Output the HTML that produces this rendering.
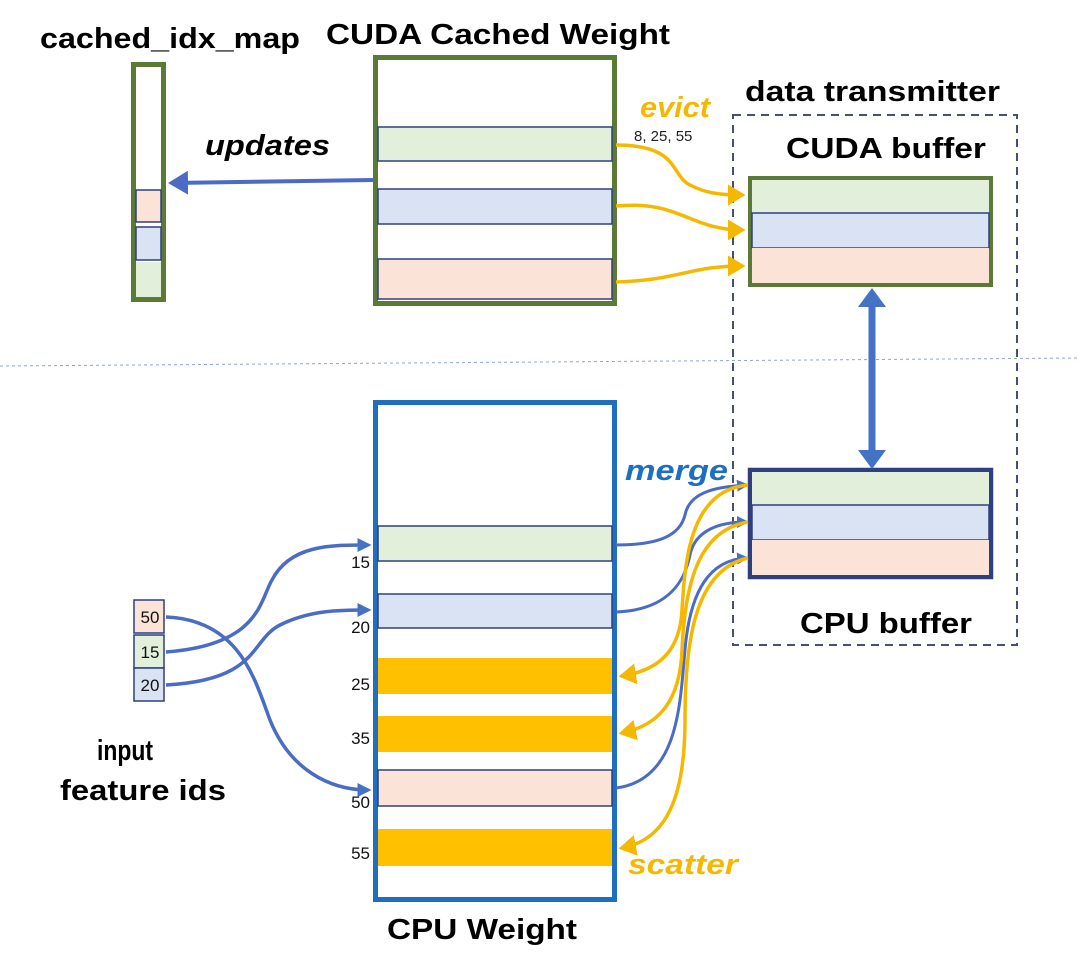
<!DOCTYPE html>
<html><head><meta charset="utf-8"><style>
body{margin:0;background:#fff;}
svg{display:block;font-family:"Liberation Sans",sans-serif;}
</style></head><body>
<svg width="1080" height="970" viewBox="0 0 1080 970" xmlns="http://www.w3.org/2000/svg">
<defs>
<marker id="ab" markerWidth="6" markerHeight="6" refX="4" refY="3" orient="auto" markerUnits="strokeWidth"><path d="M0,0 L5,3 L0,6 z" fill="#4a6cc4"/></marker>
<marker id="ao" markerWidth="6" markerHeight="6" refX="4" refY="3" orient="auto" markerUnits="strokeWidth"><path d="M0,0 L5,3 L0,6 z" fill="#f5b800"/></marker>
<marker id="ab2" markerWidth="4" markerHeight="4" refX="3" refY="2" orient="auto" markerUnits="strokeWidth"><path d="M0,0 L4,2 L0,4 z" fill="#4472c4"/></marker>
</defs>
<line x1="0" y1="366" x2="1080" y2="358" stroke="#8fa4dc" stroke-width="1" stroke-dasharray="3,3"/>
<g font-size="29" font-weight="bold" lengthAdjust="spacingAndGlyphs">
<text x="40" y="48" textLength="260" lengthAdjust="spacingAndGlyphs">cached_idx_map</text>
<text x="326" y="44" textLength="344" lengthAdjust="spacingAndGlyphs">CUDA Cached Weight</text>
<text x="745" y="101" textLength="255" lengthAdjust="spacingAndGlyphs">data transmitter</text>
<text x="786" y="158" textLength="200" lengthAdjust="spacingAndGlyphs">CUDA buffer</text>
<text x="800" y="633" textLength="172" lengthAdjust="spacingAndGlyphs">CPU buffer</text>
<text x="387" y="939" textLength="190" lengthAdjust="spacingAndGlyphs">CPU Weight</text>
<text x="97" y="760" textLength="56" lengthAdjust="spacingAndGlyphs">input</text>
<text x="60" y="800" textLength="166" lengthAdjust="spacingAndGlyphs">feature ids</text>
<text x="205" y="155" font-style="italic" textLength="125" lengthAdjust="spacingAndGlyphs">updates</text>
<text x="640" y="117" font-style="italic" fill="#f5b800" textLength="70" lengthAdjust="spacingAndGlyphs">evict</text>
<text x="625" y="480" font-style="italic" fill="#1f6fc0" textLength="103" lengthAdjust="spacingAndGlyphs">merge</text>
<text x="628" y="874" font-style="italic" fill="#f5b800" textLength="110" lengthAdjust="spacingAndGlyphs">scatter</text>
</g>
<text x="634" y="141" font-size="15" fill="#222">8, 25, 55</text>
<rect x="133.5" y="64.5" width="30" height="235" fill="#fff" stroke="#5a7a35" stroke-width="5"/>
<rect x="136" y="190" width="25" height="32" fill="#fbe3d8" stroke="#2f3f7f" stroke-width="1.5"/>
<rect x="136" y="227" width="25" height="33" fill="#dae3f3" stroke="#2f3f7f" stroke-width="1.5"/>
<rect x="136" y="262" width="25" height="35" fill="#e2efda"/>
<rect x="375.5" y="57.5" width="239" height="246" fill="#fff" stroke="#5a7a35" stroke-width="5"/>
<rect x="378" y="127" width="234" height="34" fill="#e2efda" stroke="#2f3f7f" stroke-width="1.5"/>
<rect x="378" y="189" width="234" height="35" fill="#dae3f3" stroke="#2f3f7f" stroke-width="1.5"/>
<rect x="378" y="259" width="234" height="40" fill="#fbe3d8" stroke="#2f3f7f" stroke-width="1.5"/>
<line x1="373" y1="180" x2="172" y2="183" stroke="#4a6cc4" stroke-width="4" marker-end="url(#ab)"/>
<rect x="733" y="115" width="284" height="530" fill="none" stroke="#44507a" stroke-width="2" stroke-dasharray="8,6"/>
<rect x="750" y="178" width="241" height="107" fill="#fff" stroke="#5a7a35" stroke-width="4"/>
<rect x="752" y="180" width="237" height="33" fill="#e2efda"/>
<rect x="752" y="213" width="237" height="35" fill="#dae3f3" stroke="#2f3f7f" stroke-width="1.5"/>
<rect x="752" y="248" width="237" height="35" fill="#fbe3d8"/>
<rect x="750" y="470" width="241" height="107" fill="#fff" stroke="#2f3f7f" stroke-width="4.5"/>
<rect x="752" y="472" width="237" height="33" fill="#e2efda"/>
<rect x="752" y="505" width="237" height="35" fill="#dae3f3" stroke="#2f3f7f" stroke-width="1.5"/>
<rect x="752" y="540" width="237" height="35" fill="#fbe3d8"/>
<line x1="872" y1="305" x2="872" y2="452" stroke="#4472c4" stroke-width="7"/>
<path d="M858,307 L872,288 L886,307 z" fill="#4472c4"/>
<path d="M858,450 L872,469 L886,450 z" fill="#4472c4"/>
<rect x="375.5" y="402.5" width="239" height="497" fill="#fff" stroke="#1f6fc0" stroke-width="5"/>
<rect x="378" y="526" width="234" height="35" fill="#e2efda" stroke="#2f3f7f" stroke-width="1.5"/>
<rect x="378" y="594" width="234" height="34" fill="#dae3f3" stroke="#2f3f7f" stroke-width="1.5"/>
<rect x="378" y="658" width="234" height="36" fill="#ffc000"/>
<rect x="378" y="716" width="234" height="36" fill="#ffc000"/>
<rect x="378" y="770" width="234" height="36" fill="#fbe3d8" stroke="#2f3f7f" stroke-width="1.5"/>
<rect x="378" y="829" width="234" height="37" fill="#ffc000"/>
<g font-size="17" text-anchor="end" fill="#111">
<text x="370" y="568">15</text><text x="370" y="633">20</text><text x="370" y="690">25</text>
<text x="370" y="744">35</text><text x="370" y="808">50</text><text x="370" y="859">55</text>
</g>
<rect x="134" y="600" width="30" height="33" fill="#fbe3d8" stroke="#2f3f7f" stroke-width="1.5"/>
<rect x="134" y="635" width="30" height="33" fill="#e2efda" stroke="#2f3f7f" stroke-width="1.5"/>
<rect x="134" y="668" width="30" height="33" fill="#dae3f3" stroke="#2f3f7f" stroke-width="1.5"/>
<g font-size="17" text-anchor="middle" fill="#111">
<text x="150" y="623">50</text><text x="150" y="658">15</text><text x="150" y="691">20</text>
</g>
<g fill="none" stroke="#4a6cc4" stroke-width="3.5">
<path d="M166,652 C260,645 260,600 272,580 C290,545 330,545 368,545" marker-end="url(#ab2)"/>
<path d="M166,685 C260,680 250,640 280,625 C310,610 340,610 368,610" marker-end="url(#ab2)"/>
<path d="M166,617 C240,620 255,680 270,720 C290,770 330,790 368,790" marker-end="url(#ab2)"/>
</g>
<g fill="none" stroke="#f5b800" stroke-width="3.5">
<path d="M616,145 C680,145 670,175 690,185 C705,193 720,195 742,195" marker-end="url(#ao)"/>
<path d="M616,206 C680,200 690,230 742,230" marker-end="url(#ao)"/>
<path d="M616,282 C680,280 690,266 742,266" marker-end="url(#ao)"/>
</g>
<g fill="none" stroke="#4a6cc4" stroke-width="3">
<path d="M616,545 C660,545 680,535 685,515 C690,490 720,487 746,485" marker-end="url(#ab2)"/>
<path d="M616,612 C670,610 685,580 690,555 C695,530 720,522 746,522" marker-end="url(#ab2)"/>
<path d="M616,788 C680,780 680,700 685,650 C690,590 710,560 746,558" marker-end="url(#ab2)"/>
</g>
<g fill="none" stroke="#f5b800" stroke-width="3.5">
<path d="M748,485 C690,490 685,560 682,610 C680,650 660,670 622,676" marker-end="url(#ao)"/>
<path d="M748,522 C700,530 685,580 682,650 C680,700 660,725 622,733" marker-end="url(#ao)"/>
<path d="M748,558 C695,570 685,640 685,720 C685,800 665,840 622,848" marker-end="url(#ao)"/>
</g>
</svg>
</body></html>
